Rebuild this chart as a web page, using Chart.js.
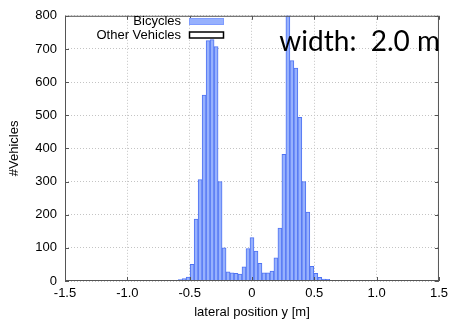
<!DOCTYPE html>
<html>
<head>
<meta charset="utf-8">
<title>Lateral position histogram</title>
<script src="https://cdn.jsdelivr.net/npm/chart.js@4.4.1/dist/chart.umd.min.js"></script>
<style>
  html, body { margin: 0; padding: 0; background: #fff; }
  #wrap { position: relative; width: 453px; height: 320px; }
</style>
</head>
<body>
<div id="wrap"><canvas id="histChart" width="453" height="320"></canvas></div>
<script>
// bin centres of the lateral position histogram [m]
const binCenters = [
    -0.640, -0.608, -0.576, -0.544, -0.512, -0.480, -0.448, -0.416, -0.384, -0.352,
    -0.320, -0.288, -0.256, -0.224, -0.192, -0.160, -0.128, -0.096, -0.064, -0.032,
    0.000,
    0.032, 0.064, 0.096, 0.128, 0.160, 0.192, 0.224, 0.256, 0.288, 0.320,
    0.352, 0.384, 0.416, 0.448, 0.480, 0.512, 0.544, 0.576, 0.608, 0.640
];

// number of bicycles per bin
const bicycleCounts = [
    1, 2, 4, 7, 12, 50, 187, 306, 561, 725,
    728, 707, 300, 100, 28, 25, 23, 21, 43, 98,
    131,
    90, 53, 25, 25, 30, 70, 160, 382, 840, 665,
    642, 494, 300, 208, 44, 23, 11, 6, 5, 2
];

const seriesNames = ['Bicycles', 'Other Vehicles'];
const widthLabel = 'width:  2.0 m';

const barFill = '#97b1fd';
const barEdge = '#4f73f2';
const axisFont = { family: '"Liberation Sans", Arial, sans-serif', size: 13 };

// frame, inward ticks, legend and the width annotation
const framePlugin = {
    id: 'frameAndLabels',
    afterDraw(chart) {
        const { ctx, chartArea: a, scales } = chart;
        ctx.save();
        ctx.strokeStyle = '#555';
        ctx.lineWidth = 1;
        ctx.strokeRect(a.left + 0.5, a.top + 0.5, a.right - a.left - 1, a.bottom - a.top - 1);

        ctx.beginPath();
        scales.x.ticks.forEach(t => {
            const px = Math.round(scales.x.getPixelForValue(t.value)) + 0.5;
            ctx.moveTo(px, a.bottom); ctx.lineTo(px, a.bottom - 4);
            ctx.moveTo(px, a.top); ctx.lineTo(px, a.top + 4);
        });
        scales.y.ticks.forEach(t => {
            const py = Math.round(scales.y.getPixelForValue(t.value)) + 0.5;
            ctx.moveTo(a.left, py); ctx.lineTo(a.left + 4, py);
            ctx.moveTo(a.right, py); ctx.lineTo(a.right - 4, py);
        });
        ctx.stroke();

        // legend
        ctx.font = '13px "Liberation Sans", Arial, sans-serif';
        ctx.fillStyle = '#000';
        ctx.textAlign = 'right';
        ctx.textBaseline = 'middle';
        const rows = [21.5, 35];
        seriesNames.forEach((name, i) => {
            ctx.fillText(name, 181, rows[i]);
            const y0 = rows[i] - 3.5;
            if (i === 0) {
                ctx.fillStyle = barFill;
                ctx.fillRect(189, y0, 35, 7);
                ctx.strokeStyle = '#7f9cff';
                ctx.strokeRect(189.5, y0 + 0.5, 34, 6);
            } else {
                ctx.strokeStyle = '#000';
                ctx.lineWidth = 1.5;
                ctx.strokeRect(189.5, y0 + 0.5, 34, 6);
            }
            ctx.fillStyle = '#000';
            ctx.lineWidth = 1;
        });

        // channel width annotation
        ctx.font = '28px Lato, "DejaVu Sans", sans-serif';
        ctx.textAlign = 'right';
        ctx.textBaseline = 'alphabetic';
        ctx.fillText(widthLabel, 440, 51);
        ctx.restore();
    }
};

const ctxHist = document.getElementById('histChart').getContext('2d');
const histChart = new Chart(ctxHist, {
    type: 'bar',
    data: {
        datasets: [{
            label: seriesNames[0],
            data: binCenters.map((x, i) => ({ x: x, y: bicycleCounts[i] })),
            backgroundColor: barFill,
            borderColor: barEdge,
            borderWidth: 1,
            barPercentage: 1,
            categoryPercentage: 1,
            grouped: false,
            clip: 0
        }]
    },
    options: {
        responsive: false,
        animation: false,
        devicePixelRatio: 1,
        layout: { padding: { top: 12, right: 11, left: 0, bottom: 0 } },
        scales: {
            x: {
                type: 'linear',
                min: -1.5,
                max: 1.5,
                offset: false,
                grid: { offset: false, drawTicks: false, color: '#c4c4c4' },
                border: { display: false, dash: [1, 2] },
                ticks: { stepSize: 0.5, padding: 5, color: '#000', font: axisFont, maxRotation: 0 },
                title: {
                    display: true,
                    text: 'lateral position y [m]',
                    color: '#000',
                    font: axisFont,
                    padding: { top: 0, bottom: 0 }
                },
                afterFit: function(scale) { scale.height = 39; }
            },
            y: {
                min: 0,
                max: 800,
                grid: { drawTicks: false, color: '#c4c4c4' },
                border: { display: false, dash: [1, 2] },
                ticks: { stepSize: 100, padding: 8, color: '#000', font: axisFont },
                title: {
                    display: true,
                    text: '#Vehicles',
                    color: '#000',
                    font: axisFont,
                    padding: { top: 7, bottom: 0 }
                },
                afterFit: function(scale) { scale.width = 65; }
            }
        },
        plugins: {
            legend: { display: false },
            tooltip: { enabled: false }
        }
    },
    plugins: [framePlugin]
});
</script>
</body>
</html>
